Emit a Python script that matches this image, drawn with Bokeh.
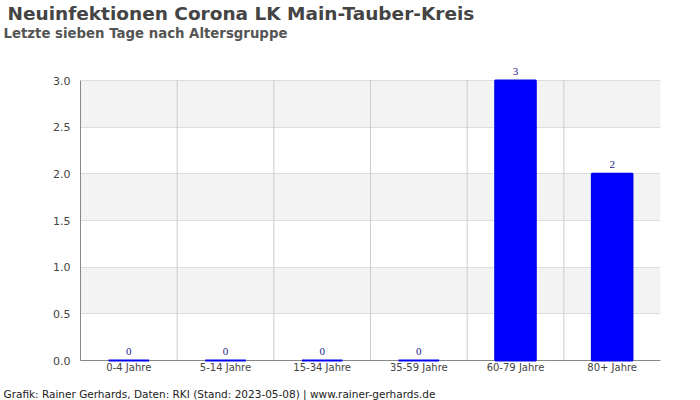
from bokeh.plotting import figure
from bokeh.models import FactorRange, Range1d, FixedTicker, Title, LabelSet, ColumnDataSource, NumeralTickFormatter
from bokeh.embed import file_html
from bokeh.resources import INLINE

title_text = "Neuinfektionen Corona LK Main-Tauber-Kreis"
subtitle_text = "Letzte sieben Tage nach Altersgruppe"
footer_text = "Grafik: Rainer Gerhards, Daten: RKI (Stand: 2023-05-08) | www.rainer-gerhards.de"

categories = ["0-4 Jahre", "5-14 Jahre", "15-34 Jahre", "35-59 Jahre", "60-79 Jahre", "80+ Jahre"]
values = [0, 0, 0, 0, 3, 2]
y_ticks = [0, 0.5, 1.0, 1.5, 2.0, 2.5, 3.0]
y_max = 3.0

src = ColumnDataSource(dict(x=categories, top=values, label=[str(v) for v in values]))

p = figure(width=700, height=400, output_backend="svg", toolbar_location=None,
           x_range=FactorRange(factors=categories, range_padding=0, factor_padding=0),
           y_range=Range1d(0, y_max + 19 / (280 / y_max)),
           min_border_left=80, min_border_right=40, min_border_top=61, min_border_bottom=40)
p.outline_line_color = None
p.background_fill_color = "white"
p.title = None

# grid
p.xgrid.grid_line_color = None
p.ygrid.ticker = FixedTicker(ticks=y_ticks)
p.ygrid.grid_line_color = "#dddddd"
p.ygrid.band_fill_color = "#f3f3f3"
p.ygrid.band_fill_alpha = 1.0
p.ygrid.bounds = (0, y_max)
bounds_x = list(range(1, len(categories)))
p.segment(x0=bounds_x, x1=bounds_x, y0=[0] * len(bounds_x), y1=[y_max] * len(bounds_x),
          line_color="#cccccc", line_width=1)

# axes
p.yaxis.ticker = FixedTicker(ticks=y_ticks)
p.yaxis.formatter = NumeralTickFormatter(format="0.0")
p.yaxis.bounds = (0, y_max)
for ax in (p.xaxis[0], p.yaxis[0]):
    ax.axis_line_color = "#888888"
    ax.major_tick_out = 0
    ax.major_tick_in = 0
    ax.minor_tick_out = 0
    ax.minor_tick_in = 0
    ax.major_label_text_color = "#444444"
    ax.major_label_text_font = "DejaVu Sans"
    ax.major_label_text_font_size = "11px"
p.xaxis.major_label_standoff = 1
p.xaxis.major_label_text_font_size = "10px"
p.yaxis.major_label_standoff = 10

bars = p.vbar(x="x", top="top", width=0.42, source=src, fill_color="#0000ff",
              line_color="#0000ee", line_width=2)
bars.level = "annotation"

p.add_layout(LabelSet(x="x", y="top", text="label", source=src, y_offset=6,
                      text_align="center", text_baseline="bottom",
                      text_font="DejaVu Sans", text_font_size="11px", text_color="#1a1a8c"))

# spacer between subtitle and plot area
p.add_layout(Title(text=" ", align="left", standoff=0, text_font="DejaVu Sans",
                   text_font_size="16.5px", text_color="white"), "above")
p.add_layout(Title(text=subtitle_text, align="left", offset=-77, standoff=0,
                   text_font="DejaVu Sans", text_font_style="bold", text_font_size="13.3px",
                   text_color="#555555"), "above")
p.add_layout(Title(text=title_text, align="left", offset=-73, standoff=0,
                   text_font="DejaVu Sans", text_font_style="bold", text_font_size="18.5px",
                   text_color="#444444"), "above")
# spacer between x axis and footer
p.add_layout(Title(text=" ", align="left", standoff=0, text_font="DejaVu Sans",
                   text_font_size="7px", text_color="white"), "below")
p.add_layout(Title(text=footer_text, align="left", offset=-77, standoff=0,
                   text_font="DejaVu Sans", text_font_style="normal", text_font_size="10.5px",
                   text_color="#222222"), "below")

open("out.html", "w").write(file_html(p, INLINE))
